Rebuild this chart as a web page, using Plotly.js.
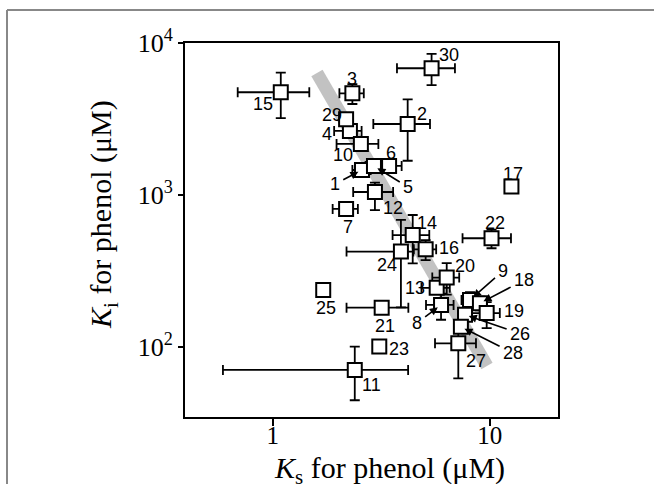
<!DOCTYPE html>
<html>
<head>
<meta charset="utf-8">
<script src="https://cdn.plot.ly/plotly-3.0.1.min.js"></script>
<style>html,body{margin:0;padding:0;background:#fff;}</style>
</head>
<body>
<div id="chart" style="width:654px;height:484px;"></div>
<script>
// ---- data ----
const labels = ['1','2','3','4','5','6','7','8','9','10','11','12','13','14','15','16','17','18','19','20','21','22','23','24','25','26','27','28','29','30'];
const ks = [2.58, 4.19, 2.33, 2.27, 2.93, 3.44, 2.18, 5.97, 8.12, 2.55, 2.39, 2.96, 5.70, 4.42, 1.09, 5.07, 12.6, 9.02, 9.69, 6.34, 3.18, 10.2, 3.10, 3.90, 1.71, 7.70, 7.17, 7.37, 2.18, 5.40];
const ki = [1460, 2930, 4667, 2640, 1550, 1553, 809, 189, 204, 2167, 70.6, 1046, 245, 545, 4740, 439, 1135, 194, 167, 286, 181.4, 519, 100.5, 424, 237, 163, 105.7, 135.6, 3150, 6820];
const ksErrPlus  = [0.25, 1.12, 0.30, 0.30, 0.25, 0.49, 0.29, 0.85, 0.70, 0.52, 1.82, 0.63, 0.85, 0.85, 0.385, 0.60, 0, 0.30, 1.45, 0.90, 1.04, 2.34, 0, 0.55, 0, 0.50, 1.48, 0, 0, 1.52];
const ksErrMinus = [0.25, 1.28, 0.30, 0.35, 0.25, 0.50, 0.29, 0.88, 0.70, 0.58, 1.80, 0.61, 0.85, 0.85, 0.40, 0.60, 0, 0.30, 1.45, 0.90, 0.99, 2.70, 0, 1.71, 0, 0.50, 1.57, 0, 0, 1.66];
const kiErrPlus  = [120, 1330, 700, 150, 150, 0, 0, 35, 25, 150, 30, 160, 0, 193, 1640, 66, 0, 20, 30, 70, 0, 73, 0, 262, 0, 0, 40, 0, 0, 1650];
const kiErrMinus = [120, 1250, 700, 150, 150, 0, 0, 38, 25, 150, 26, 250, 0, 190, 1540, 66, 0, 20, 34, 65, 0, 73, 0, 242, 0, 0, 43.5, 0, 0, 1530];
// gray trend band end points
const trendKs = [1.60, 9.72];
const trendKi = [6350, 75];
// axis ticks and titles
const xTickVals = [1, 10];
const xTickText = ['1', '10'];
const yTickVals = [100, 1000, 10000];
const yTickText = ['10<sup>2</sup>', '10<sup>3</sup>', '10<sup>4</sup>'];
const xTitle = '<i>K</i><sub>s</sub> for phenol (μM)';
const yTitle = '<i>K</i><sub>i</sub> for phenol (μM)';

// ---- label placement (pixel offsets of label from point; arrow flag) ----
const labelPlace = {
  '1': [-27, 14, true], '5': [34, 21, true], '8': [-24, 18, true], '9': [33, -29, true],
  '18': [44, -23, true], '26': [55, 19, true], '28': [52, 26, true],
  '2': [14, -10], '3': [0, -14], '4': [-23, 3], '6': [2, -13], '7': [2, 18],
  '10': [-18, 11], '11': [17, 15], '12': [18, 16], '13': [-22, 0], '14': [14, -12],
  '15': [-18, 12], '16': [23, -1], '17': [2, -13], '19': [27, -2], '20': [18, -12],
  '21': [3, 18], '22': [3, -15], '23': [20, 2], '24': [-14, 13], '25': [3, 18],
  '27': [18, 18], '29': [-14, -4], '30': [17, -13]
};

const labelFont = {family: 'Liberation Sans, Arial, sans-serif', size: 18, color: '#000'};
const annotations = labels.map((lab, i) => {
  const p = labelPlace[lab];
  const base = {x: Math.log10(ks[i]), y: Math.log10(ki[i]), xref: 'x', yref: 'y', text: lab, font: labelFont};
  if (p[2]) {
    return Object.assign(base, {showarrow: true, ax: p[0], ay: p[1], arrowhead: 2, arrowsize: 1,
      arrowwidth: 1.6, arrowcolor: '#000', standoff: 4, startstandoff: 2});
  }
  return Object.assign(base, {showarrow: false, xshift: p[0], yshift: -p[1]});
});
const titleFont = {family: 'Liberation Serif, Times New Roman, serif', size: 30, color: '#000'};
annotations.push({xref: 'paper', yref: 'paper', x: 0.547, y: -0.143, xanchor: 'center', yanchor: 'middle',
  showarrow: false, text: xTitle, font: titleFont});
annotations.push({xref: 'paper', yref: 'paper', x: -0.218, y: 0.542, xanchor: 'center', yanchor: 'middle',
  showarrow: false, textangle: -90, text: yTitle, font: titleFont});

const traces = [
  {x: trendKs, y: trendKi, mode: 'lines', line: {color: '#c2c2c2', width: 13}, hoverinfo: 'skip', showlegend: false},
  {
    x: ks, y: ki, mode: 'markers', showlegend: false,
    marker: {symbol: 'square', size: 14, color: '#fff', line: {color: '#000', width: 2}},
    error_x: {type: 'data', symmetric: false, array: ksErrPlus, arrayminus: ksErrMinus, color: '#000', thickness: 1.8, width: 5},
    error_y: {type: 'data', symmetric: false, array: kiErrPlus, arrayminus: kiErrMinus, color: '#000', thickness: 1.8, width: 5}
  }
];

const layout = {
  width: 654, height: 484,
  margin: {l: 185, r: 96, t: 43, b: 67},
  paper_bgcolor: '#fff', plot_bgcolor: '#fff',
  showlegend: false,
  font: {family: 'Liberation Serif, Times New Roman, serif', color: '#000'},
  xaxis: {
    type: 'log', range: [-0.404, 1.315],
    tickmode: 'array', tickvals: xTickVals, ticktext: xTickText,
    ticks: 'outside', ticklen: 7, tickwidth: 2, tickcolor: '#000',
    ticklabelstandoff: -12,
    showline: true, mirror: true, linewidth: 2, linecolor: '#000',
    showgrid: false, zeroline: false,
    tickfont: {family: 'Liberation Serif, serif', size: 25, color: '#000'}
  },
  yaxis: {
    type: 'log', range: [1.539, 4],
    tickmode: 'array', tickvals: yTickVals, ticktext: yTickText,
    ticks: 'outside', ticklen: 5, tickwidth: 2, tickcolor: '#000',
    showline: true, mirror: true, linewidth: 2, linecolor: '#000',
    showgrid: false, zeroline: false,
    tickfont: {family: 'Liberation Serif, serif', size: 26, color: '#000'}
  },
  annotations: annotations,
  shapes: [
    {type: 'line', xref: 'paper', yref: 'paper', x0: -0.4772, x1: 1.26, y0: 1.0882, y1: 1.0882, line: {color: '#888', width: 2}},
    {type: 'line', xref: 'paper', yref: 'paper', x0: -0.4772, x1: -0.4772, y0: 1.0882, y1: -0.18, line: {color: '#888', width: 2}}
  ]
};

Plotly.newPlot('chart', traces, layout, {displayModeBar: false, staticPlot: true});
</script>
</body>
</html>
